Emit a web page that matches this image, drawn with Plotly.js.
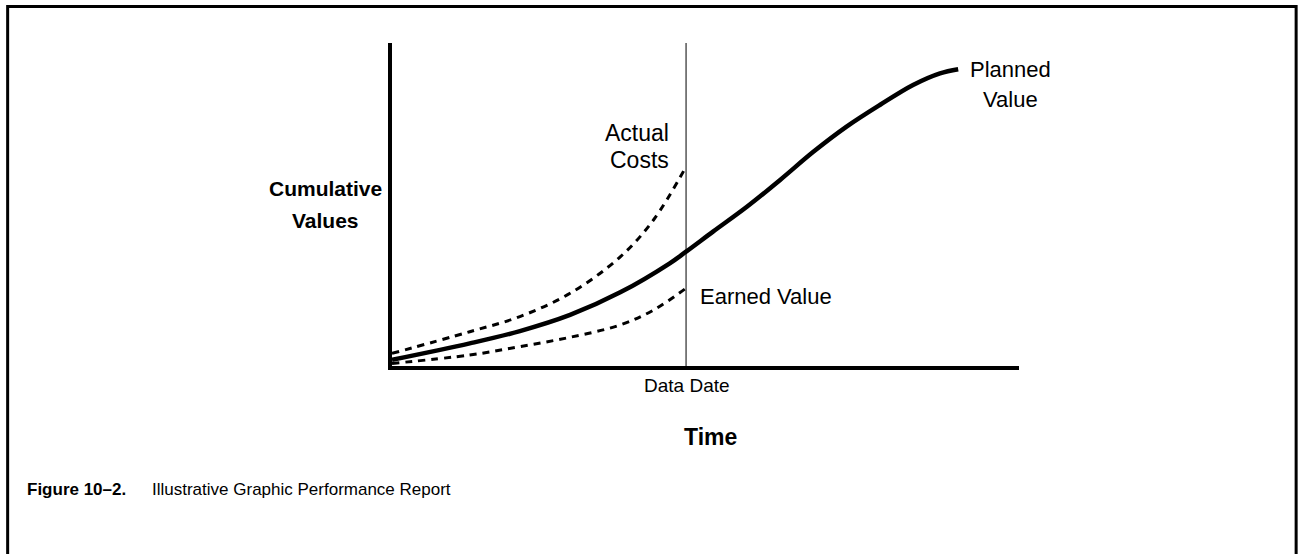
<!DOCTYPE html>
<html>
<head>
<meta charset="utf-8">
<script src="https://cdn.plot.ly/plotly-3.0.1.min.js"></script>
<style>
  body { margin: 0; background: #fff; }
  #chart { width: 1299px; height: 554px; }
</style>
</head>
<body>
<div id="chart"></div>
<script>
// 時間軸（0 = 開始，100 = 結束），數值為累積值（0–100）
const dataDate = 46.9;

const plannedTime  = [0, 12.4, 20.4, 28.4, 36.4, 44.3, 46.9, 51.2, 56.6, 61.9, 67.2, 72.5, 77.8, 83.1, 87.4, 90.3];
const plannedValue = [1.9, 7.0, 10.8, 15.8, 22.8, 31.8, 35.4, 41.6, 49.3, 57.6, 66.3, 74.1, 80.8, 87.0, 90.6, 91.9];

const actualTime  = [0, 12.4, 20.4, 28.4, 36.4, 41.7, 46.9];
const actualCosts = [3.9, 10.6, 15.3, 22.5, 33.8, 45.2, 61.7];

const earnedTime  = [0, 12.4, 20.4, 28.4, 36.4, 41.7, 46.9];
const earnedValue = [0.8, 3.4, 6.0, 8.9, 12.7, 17.3, 24.1];

const FONT = '"Liberation Sans", Arial, sans-serif';

const tracePlanned = {
    x: plannedTime,
    y: plannedValue,
    mode: 'lines',
    type: 'scatter',
    name: 'Planned Value',
    line: { color: 'black', width: 4.5, shape: 'spline', smoothing: 1 }
};

const traceActual = {
    x: actualTime,
    y: actualCosts,
    mode: 'lines',
    type: 'scatter',
    name: 'Actual Costs',
    line: { color: 'black', width: 3, dash: '7px,6px', shape: 'spline', smoothing: 1 }
};

const traceEarned = {
    x: earnedTime,
    y: earnedValue,
    mode: 'lines',
    type: 'scatter',
    name: 'Earned Value',
    line: { color: 'black', width: 3, dash: '7px,6px', shape: 'spline', smoothing: 1 }
};

// 標籤（paper 座標）
function label(text, x, y, size, opts) {
    return Object.assign({
        text: text, x: x, y: y, xref: 'paper', yref: 'paper',
        showarrow: false, font: { family: FONT, size: size, color: 'black' },
        xanchor: 'center', yanchor: 'middle', align: 'center'
    }, opts || {});
}

const layout = {
    width: 1299,
    height: 554,
    margin: { l: 392, r: 280, t: 43, b: 188 },
    paper_bgcolor: 'white',
    plot_bgcolor: 'white',
    showlegend: false,
    font: { family: FONT, color: 'black' },
    xaxis: {
        range: [0, 100], showline: true, linecolor: 'black', linewidth: 4,
        showgrid: false, zeroline: false, showticklabels: false, ticks: ''
    },
    yaxis: {
        range: [0, 100], showline: true, linecolor: 'black', linewidth: 4,
        showgrid: false, zeroline: false, showticklabels: false, ticks: ''
    },
    shapes: [
        // Data Date 垂直線
        { type: 'line', xref: 'x', yref: 'paper', x0: dataDate, x1: dataDate, y0: 0, y1: 1,
          line: { color: 'black', width: 1 } },
        // 外框
        { type: 'rect', xref: 'paper', yref: 'paper', x0: -0.613, x1: 1.442, y0: -0.7, y1: 1.113,
          line: { color: 'black', width: 3 } }
    ],
    annotations: [
        label('<b>Cumulative</b>', -0.1053, 0.551, 21),
        label('<b>Values</b>', -0.1053, 0.449, 21),
        label('Actual', 0.445, 0.7214, 23, { xanchor: 'right', align: 'right' }),
        label('Costs', 0.445, 0.6378, 23, { xanchor: 'right', align: 'right' }),
        label('Earned Value', 0.488, 0.2167, 22, { xanchor: 'left', align: 'left' }),
        label('Planned', 0.9872, 0.9195, 22),
        label('Value', 0.9872, 0.8266, 22),
        label('Data Date', 0.4705, -0.0619, 19),
        label('<b>Time</b>', 0.5072, -0.2198, 23),
        label('<b>Figure 10–2.</b>', -0.5853, -0.3839, 17, { xanchor: 'left', align: 'left' }),
        label('Illustrative Graphic Performance Report', -0.386, -0.3839, 17, { xanchor: 'left', align: 'left' })
    ]
};

Plotly.newPlot('chart', [tracePlanned, traceActual, traceEarned], layout, { staticPlot: true, displayModeBar: false });
</script>
</body>
</html>
